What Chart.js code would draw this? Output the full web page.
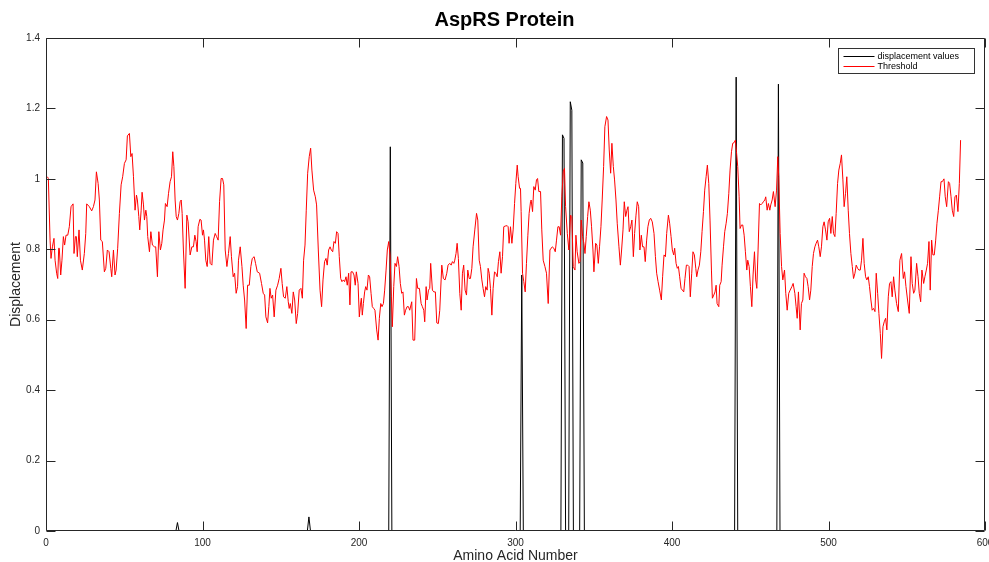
<!DOCTYPE html>
<html>
<head>
<meta charset="utf-8">
<title>AspRS Protein</title>
<script src="https://cdn.jsdelivr.net/npm/chart.js@4"></script>
<style>
  html, body { margin: 0; padding: 0; background: #fff; }
  canvas { display: block; }
</style>
</head>
<body>
<canvas id="chart" width="989" height="562"></canvas>
<script>
// [amino acid number, displacement] - flat at zero except the spikes
const displacement = [
  [1, 0], [83, 0], [84, 0.024], [85, 0], [167, 0], [168, 0.04], [169, 0],
  [219, 0], [220, 1.091], [221, 0], [303, 0], [304, 0.727], [305, 0],
  [329, 0], [330, 1.125], [331, 1.115], [332, 0], [334, 0], [335, 1.219], [336, 1.195], [337, 0],
  [341, 0], [342, 1.054], [343, 1.045], [344, 0], [440, 0], [441, 1.289], [442, 0],
  [467, 0], [468, 1.269], [469, 0], [586, 0]
];

// [amino acid number, threshold]
const threshold = [
  [0.9,1.006],[1.5,1.001],[2.6,0.826],[3.2,0.774],[4.1,0.807],[5.1,0.831],[5.8,0.769],[6.8,0.732],[7.5,0.717],[8.1,0.803],
  [8.5,0.803],[9.4,0.727],[10.2,0.769],[11.1,0.836],[11.9,0.812],[12.8,0.840],[13.9,0.840],[14.9,0.864],[16.0,0.921],[17.3,0.929],
  [17.9,0.788],[18.8,0.836],[19.4,0.836],[20.0,0.779],[21.1,0.855],[22.0,0.769],[23.2,0.741],[24.5,0.788],[25.4,0.845],[26.0,0.929],
  [27.7,0.921],[29.2,0.909],[30.3,0.921],[31.3,0.940],[32.2,1.020],[33.3,0.987],[34.1,0.940],[35.0,0.826],[36.0,0.822],[37.3,0.736],
  [38.2,0.746],[39.2,0.798],[40.3,0.793],[41.4,0.746],[42.0,0.722],[43.1,0.798],[44.1,0.727],[44.8,0.741],[45.8,0.803],[46.9,0.902],
  [48.0,0.983],[49.0,1.006],[50.1,1.044],[51.2,1.054],[52.0,1.122],[53.3,1.129],[54.2,1.063],[55.0,1.072],[55.9,1.006],[56.9,0.911],
  [57.8,0.954],[58.4,0.940],[59.3,0.893],[59.9,0.855],[60.8,0.911],[61.4,0.962],[62.3,0.926],[62.9,0.883],[63.8,0.911],[64.4,0.893],
  [65.0,0.836],[66.1,0.793],[67.0,0.850],[68.0,0.812],[69.3,0.807],[70.1,0.807],[71.2,0.722],[72.1,0.850],[73.1,0.798],[74.0,0.817],
  [74.8,0.855],[75.7,0.883],[76.3,0.930],[77.4,0.921],[78.3,0.959],[79.3,0.992],
  [80.2,1.006],[81.0,1.077],[81.7,1.035],[82.5,0.940],[83.2,0.893],[84.0,0.883],[84.9,0.902],[85.7,0.935],[86.4,0.940],[87.0,0.902],
  [87.8,0.798],[88.9,0.689],[90.0,0.897],[90.8,0.878],[92.1,0.784],[93.2,0.807],[94.2,0.807],[95.1,0.840],[95.9,0.822],[96.6,0.793],
  [97.2,0.864],[98.3,0.885],[99.1,0.883],[100.0,0.840],[100.6,0.855],[101.3,0.826],[102.1,0.769],[103.0,0.751],[104.0,0.836],[104.9,0.760],
  [106.0,0.755],[107.0,0.826],[108.1,0.845],[109.0,0.836],[110.0,0.826],[110.9,0.935],[111.9,1.001],[112.8,1.001],[113.6,0.983],[114.5,0.798],
  [115.6,0.751],[116.6,0.788],[117.7,0.836],[118.5,0.779],[119.6,0.722],[120.5,0.732],[121.5,0.675],[122.4,0.694],[123.0,0.769],[124.1,0.807],
  [125.2,0.751],[126.0,0.698],[126.9,0.656],[127.9,0.575],[128.8,0.698],[129.9,0.698],[130.9,0.751],[131.8,0.774],[133.0,0.779],[133.9,0.760],
  [135.0,0.736],[136.5,0.732],[137.7,0.703],[138.8,0.675],[139.7,0.670],[140.5,0.608],[141.6,0.591],[142.4,0.637],[143.1,0.689],[143.9,0.661],
  [144.8,0.670],[145.8,0.608],[146.9,0.684],[148.0,0.698],[149.0,0.717],[150.1,0.746],[150.9,0.703],[151.8,0.665],[152.9,0.661],[153.9,0.694],
  [154.8,0.651],[155.4,0.632],[156.1,0.646],
  [157.1,0.618],[158.0,0.679],[158.9,0.656],[159.9,0.589],[160.8,0.618],[161.8,0.684],[162.9,0.689],[163.8,0.661],[164.6,0.769],[165.5,0.812],
  [166.3,0.911],[167.2,1.016],[168.2,1.063],[169.1,1.087],[169.9,1.025],[171.0,0.968],[172.1,0.949],[172.9,0.926],[174.0,0.798],[175.1,0.684],
  [176.1,0.637],[177.0,0.713],[178.0,0.765],[178.9,0.774],[179.7,0.755],[180.6,0.798],[181.5,0.807],[182.3,0.798],[183.2,0.793],[184.0,0.822],
  [184.9,0.817],[185.7,0.850],[186.6,0.845],[187.4,0.779],[188.3,0.717],[189.1,0.708],[190.0,0.713],[190.8,0.708],[191.7,0.722],[192.5,0.698],
  [193.4,0.732],[194.2,0.642],[194.9,0.736],[195.9,0.736],[196.8,0.727],[197.6,0.698],[198.3,0.736],[199.4,0.703],[200.2,0.608],[200.9,0.642],
  [201.5,0.661],[202.1,0.613],[202.8,0.646],[203.6,0.679],[204.3,0.694],[205.1,0.684],[206.0,0.727],[206.8,0.722],[207.7,0.675],[208.5,0.637],
  [209.4,0.632],[210.2,0.627],[211.3,0.571],[212.2,0.542],[213.0,0.604],[213.9,0.646],[214.7,0.637],[215.6,0.646],[216.4,0.684],[217.3,0.741],
  [218.1,0.798],[219.0,0.822],[219.8,0.784],[220.7,0.665],[221.3,0.580],[222.2,0.694],[223.0,0.760],[223.9,0.751],[224.7,0.779],[225.6,0.751],
  [226.4,0.703],[227.3,0.675],[228.1,0.679],[229.0,0.613],[229.8,0.627],[230.7,0.637],[231.6,0.637],[232.4,0.627],
  [233.7,0.651],[234.5,0.542],[235.6,0.542],[236.7,0.717],[237.5,0.689],[238.6,0.689],[239.7,0.646],[240.5,0.637],[241.4,0.627],[242.0,0.594],
  [242.9,0.694],[243.5,0.656],[244.4,0.684],[245.2,0.689],[245.8,0.760],[246.9,0.684],[247.8,0.679],[248.8,0.679],[249.7,0.591],[250.7,0.589],
  [251.6,0.627],[252.9,0.755],[253.9,0.717],[255.0,0.713],[256.1,0.732],[256.9,0.755],[258.0,0.760],[258.9,0.755],[259.7,0.765],[260.6,0.760],
  [261.2,0.769],[262.0,0.788],[262.7,0.817],[263.5,0.774],[264.4,0.675],[265.3,0.627],[266.1,0.732],[266.9,0.755],[267.8,0.684],[268.7,0.670],
  [269.5,0.741],[270.4,0.717],[271.2,0.717],[272.1,0.746],[272.9,0.807],[274.0,0.855],[275.1,0.902],[275.9,0.883],[276.8,0.769],[277.6,0.751],
  [278.5,0.713],[279.3,0.689],[280.2,0.665],[281.0,0.694],[281.9,0.684],[282.5,0.746],[283.2,0.732],[284.0,0.689],[284.9,0.613],[285.7,0.689],
  [286.6,0.736],[287.4,0.732],[288.3,0.722],[289.1,0.765],[290.0,0.793],[290.8,0.732],[291.7,0.779],[292.5,0.864],[293.4,0.866],[294.7,0.867],
  [295.3,0.864],[295.9,0.817],[296.8,0.864],[297.7,0.817],[298.5,0.855],[299.4,0.930],[300.2,0.987],[301.1,1.039],[301.7,1.006],[302.6,0.973],
  [303.2,0.973],[303.6,0.907],[304.5,0.732],[305.3,0.708],[306.2,0.679],[307.0,0.760],[307.9,0.840],[308.7,0.902],[309.6,0.935],
  [310.0,0.940],[310.9,0.907],[311.7,0.978],[312.6,0.968],[313.4,0.997],[314.1,1.001],[314.9,0.964],[316.0,0.964],[316.8,0.855],[317.7,0.769],
  [318.8,0.751],[319.8,0.732],[320.9,0.646],[322.0,0.798],[323.5,0.807],[324.5,0.803],[325.4,0.793],[326.2,0.826],[327.1,0.864],[327.9,0.864],
  [328.8,0.840],[329.6,0.949],[330.5,1.020],[331.3,1.030],[332.0,0.921],[333.1,0.845],[334.1,0.798],[335.2,0.897],[336.0,0.893],[336.9,0.751],
  [338.0,0.741],[338.6,0.840],[339.4,0.793],[340.5,0.760],[341.2,0.765],[342.0,0.883],[342.9,0.836],[343.7,0.817],[344.4,0.788],[345.2,0.836],
  [346.1,0.893],[346.9,0.935],[347.8,0.911],[348.6,0.864],[349.5,0.798],[350.1,0.736],[351.2,0.817],[352.0,0.812],[352.9,0.760],[353.7,0.807],
  [354.6,0.864],[355.4,0.940],[356.3,1.035],[357.1,1.148],[358.2,1.177],[359.1,1.167],[359.9,1.082],[360.8,1.016],[361.6,1.101],[362.5,1.035],
  [363.3,0.997],[364.2,0.940],[365.0,0.874],[366.1,0.807],[367.0,0.755],[367.8,0.798],[368.7,0.855],[369.5,0.935],[370.4,0.893],[371.2,0.911],
  [371.9,0.921],[372.7,0.850],[373.6,0.864],[374.4,0.883],[375.3,0.779],[376.1,0.845],[377.0,0.897],[377.8,0.935],[378.7,0.921],[379.5,0.798],
  [380.4,0.840],[381.2,0.807],[382.1,0.807],[382.9,0.765],[383.8,0.826],[384.6,0.864],[385.5,0.883],[386.4,0.888],
  [387.4,0.878],[388.5,0.845],[389.4,0.779],[390.2,0.732],[391.1,0.708],[392.1,0.684],[393.2,0.656],[394.0,0.722],[394.9,0.784],[395.8,0.779],
  [396.6,0.845],[397.7,0.897],[398.5,0.874],[399.4,0.836],[400.2,0.798],[401.1,0.784],[401.7,0.803],[402.6,0.760],[403.4,0.746],[404.1,0.751],
  [404.9,0.722],[405.8,0.689],[406.6,0.684],[407.5,0.679],[408.3,0.717],[409.2,0.755],[410.0,0.755],[410.9,0.751],[411.7,0.665],[412.6,0.732],
  [413.4,0.793],[414.3,0.784],[415.2,0.746],[415.8,0.722],[416.6,0.741],[417.5,0.755],[418.4,0.793],[419.2,0.850],[420.1,0.907],[420.9,0.968],
  [421.8,1.006],[422.6,1.039],[423.5,0.987],[424.3,0.883],[425.2,0.741],[425.8,0.661],[426.7,0.670],[427.5,0.679],[428.2,0.698],[428.8,0.646],
  [429.9,0.637],[430.5,0.698],[431.4,0.708],[432.0,0.755],[432.9,0.807],[433.7,0.850],[434.6,0.874],[435.4,0.902],[436.3,0.959],[437.1,1.025],
  [438.0,1.077],[438.8,1.101],[439.7,1.103],[440.5,1.110],[441.2,1.077],[442.0,1.035],[442.9,0.949],[443.5,0.859],[444.4,0.869],[445.2,0.869],
  [446.1,0.840],[446.9,0.793],[447.8,0.741],[448.4,0.769],[449.3,0.751],[450.1,0.694],[451.0,0.637],[451.8,0.727],[452.7,0.793],[453.5,0.713],
  [454.2,0.689],[455.0,0.798],[455.9,0.930],[456.7,0.926],[457.6,0.930],[458.4,0.935],[459.3,0.940],[459.9,0.949],[460.8,0.911],[461.6,0.930],
  [462.5,0.911],[463.1,0.926],
  [464.0,0.940],[464.8,0.964],[465.9,0.921],[466.8,0.968],[467.6,1.063],[468.2,1.006],[469.1,0.845],[470.0,0.751],[470.8,0.713],[471.9,0.741],
  [472.7,0.675],[473.6,0.627],[474.6,0.675],[475.5,0.684],[476.6,0.694],[477.4,0.703],[478.5,0.675],[479.3,0.637],[480.0,0.604],[480.8,0.679],
  [481.9,0.571],[482.7,0.646],[483.6,0.656],[484.4,0.732],[485.3,0.722],[486.2,0.717],[487.0,0.694],[487.9,0.656],[488.7,0.684],[489.6,0.751],
  [490.4,0.788],[491.3,0.807],[492.1,0.817],[493.0,0.826],[493.8,0.807],[494.7,0.779],[495.5,0.807],[496.4,0.864],[497.2,0.878],[498.1,0.855],
  [499.0,0.826],[499.8,0.878],[500.7,0.888],[501.5,0.845],[502.4,0.893],[503.2,0.845],[504.1,0.836],[504.9,0.902],[505.8,0.987],[506.6,1.025],
  [507.5,1.044],[508.3,1.068],[509.2,0.997],[510.0,0.921],[510.9,0.959],[511.7,1.006],[512.6,0.911],[513.4,0.845],[514.3,0.788],[515.2,0.751],
  [516.0,0.717],[516.9,0.732],[517.7,0.755],[518.6,0.746],[519.4,0.741],[520.3,0.741],[521.1,0.769],[522.0,0.831],[522.8,0.760],[523.7,0.722],
  [524.5,0.713],[525.4,0.722],[526.2,0.694],[527.1,0.656],[527.9,0.627],[528.8,0.632],[529.7,0.623],[530.5,0.732],[531.4,0.675],[532.2,0.618],
  [533.1,0.561],[533.9,0.490],[534.8,0.580],[535.6,0.594],[536.5,0.604],[537.3,0.571],[538.2,0.665],[539.0,0.703],[539.9,0.708],
  [540.7,0.665],[541.6,0.722],[542.4,0.684],[543.5,0.646],[544.6,0.623],[545.6,0.769],[546.7,0.788],[547.8,0.717],[548.6,0.736],[549.5,0.694],
  [550.5,0.656],[551.6,0.618],[552.7,0.779],[553.5,0.703],[554.4,0.675],[555.2,0.684],[556.3,0.760],[557.2,0.722],[558.0,0.675],[558.9,0.651],
  [559.7,0.741],[560.8,0.703],[561.6,0.722],[562.5,0.741],[563.3,0.760],[564.2,0.822],[565.0,0.684],[565.9,0.826],[566.7,0.784],[567.6,0.784],
  [568.5,0.826],[569.3,0.874],[570.2,0.911],[571.0,0.949],[571.9,0.992],[572.7,0.992],[573.8,1.000],[574.6,0.949],[575.5,0.921],[576.6,0.992],
  [577.4,0.987],[578.3,0.949],[579.1,0.911],[580.0,0.893],[580.8,0.949],[581.7,0.954],[582.7,0.907],[583.6,0.987],[584.4,1.110]
];

const seriesNames = ["displacement values", "Threshold"];
const xRange = [0, 600];
const yRange = [0, 1.4];
const xStep = 100;
const yStep = 0.2;

const FONT = "'Liberation Sans', Arial, Helvetica, sans-serif";
const AXIS = "#262626";

const toPoints = (pairs) => pairs.map(([x, y]) => ({ x, y }));

// MATLAB style box: frame all round, ticks pointing inwards, legend inside top right
const matlabBox = {
  id: "matlabBox",
  afterDraw(chart) {
    const { ctx, chartArea: a, scales: { x, y } } = chart;
    const L = Math.round(a.left) + 0.5, R = Math.round(a.right) - 0.5;
    const T = Math.round(a.top) + 0.5, B = Math.round(a.bottom) - 0.5;
    const tick = 9;
    ctx.save();
    ctx.strokeStyle = AXIS;
    ctx.lineWidth = 1;
    ctx.beginPath();
    ctx.rect(L, T, R - L, B - T);
    x.ticks.forEach(t => {
      const px = Math.round(x.getPixelForValue(t.value)) + 0.5;
      ctx.moveTo(px, B); ctx.lineTo(px, B - tick);
      ctx.moveTo(px, T); ctx.lineTo(px, T + tick);
    });
    y.ticks.forEach(t => {
      const py = Math.round(y.getPixelForValue(t.value)) + 0.5;
      ctx.moveTo(L, py); ctx.lineTo(L + tick, py);
      ctx.moveTo(R, py); ctx.lineTo(R - tick, py);
    });
    ctx.stroke();

    // legend
    const bw = 136, bh = 25;
    const bx = Math.round(a.right) - 11 - bw + 0.5, by = Math.round(a.top) + 10 + 0.5;
    ctx.fillStyle = "#fff";
    ctx.fillRect(bx, by, bw, bh);
    ctx.strokeStyle = "#333";
    ctx.strokeRect(bx, by, bw, bh);
    ctx.font = "9px " + FONT;
    ctx.textBaseline = "middle";
    ctx.fillStyle = "#000";
    chart.data.datasets.forEach((ds, i) => {
      const ly = Math.round(by + 7 + i * 10.5) + 0.5;
      ctx.strokeStyle = ds.borderColor;
      ctx.beginPath();
      ctx.moveTo(bx + 5, ly);
      ctx.lineTo(bx + 36, ly);
      ctx.stroke();
      ctx.fillText(ds.label, bx + 39, ly);
    });
    ctx.restore();
  }
};

new Chart(document.getElementById("chart"), {
  type: "line",
  data: {
    datasets: [
      {
        label: seriesNames[0],
        data: toPoints(displacement),
        borderColor: "#000000",
        borderWidth: 1,
        pointRadius: 0,
        order: 1
      },
      {
        label: seriesNames[1],
        data: toPoints(threshold),
        borderColor: "#ff0000",
        borderWidth: 1,
        pointRadius: 0,
        order: 0
      }
    ]
  },
  options: {
    responsive: false,
    animation: false,
    layout: { padding: { left: 20, right: 0, top: 0, bottom: 0 } },
    plugins: {
      legend: { display: false },
      tooltip: { enabled: false },
      title: {
        display: true,
        text: "AspRS Protein",
        color: "#000",
        font: { family: FONT, size: 20, weight: "bold" },
        padding: { top: 8, bottom: 6 }
      }
    },
    scales: {
      x: {
        type: "linear",
        min: xRange[0],
        max: xRange[1],
        grid: { display: false, drawTicks: false },
        border: { display: false },
        ticks: {
          stepSize: xStep,
          color: AXIS,
          padding: 6,
          maxRotation: 0,
          font: { family: FONT, size: 10 }
        },
        title: {
          display: true,
          text: "Amino Acid Number",
          color: AXIS,
          font: { family: FONT, size: 14 },
          padding: { top: 0, bottom: -3 }
        },
        afterFit(s) {
          s.height = 31;
          s.paddingRight = 4;
        }
      },
      y: {
        min: yRange[0],
        max: yRange[1],
        grid: { display: false, drawTicks: false },
        border: { display: false },
        ticks: {
          stepSize: yStep,
          color: AXIS,
          padding: 6,
          font: { family: FONT, size: 10 },
          callback: (v) => String(+v.toFixed(1))
        },
        title: {
          display: true,
          text: "Displacement",
          color: AXIS,
          font: { family: FONT, size: 14 },
          padding: { top: -12.4, bottom: 0 }
        },
        afterFit(s) {
          s.width = 26;
        }
      }
    }
  },
  plugins: [matlabBox]
});
</script>
</body>
</html>
